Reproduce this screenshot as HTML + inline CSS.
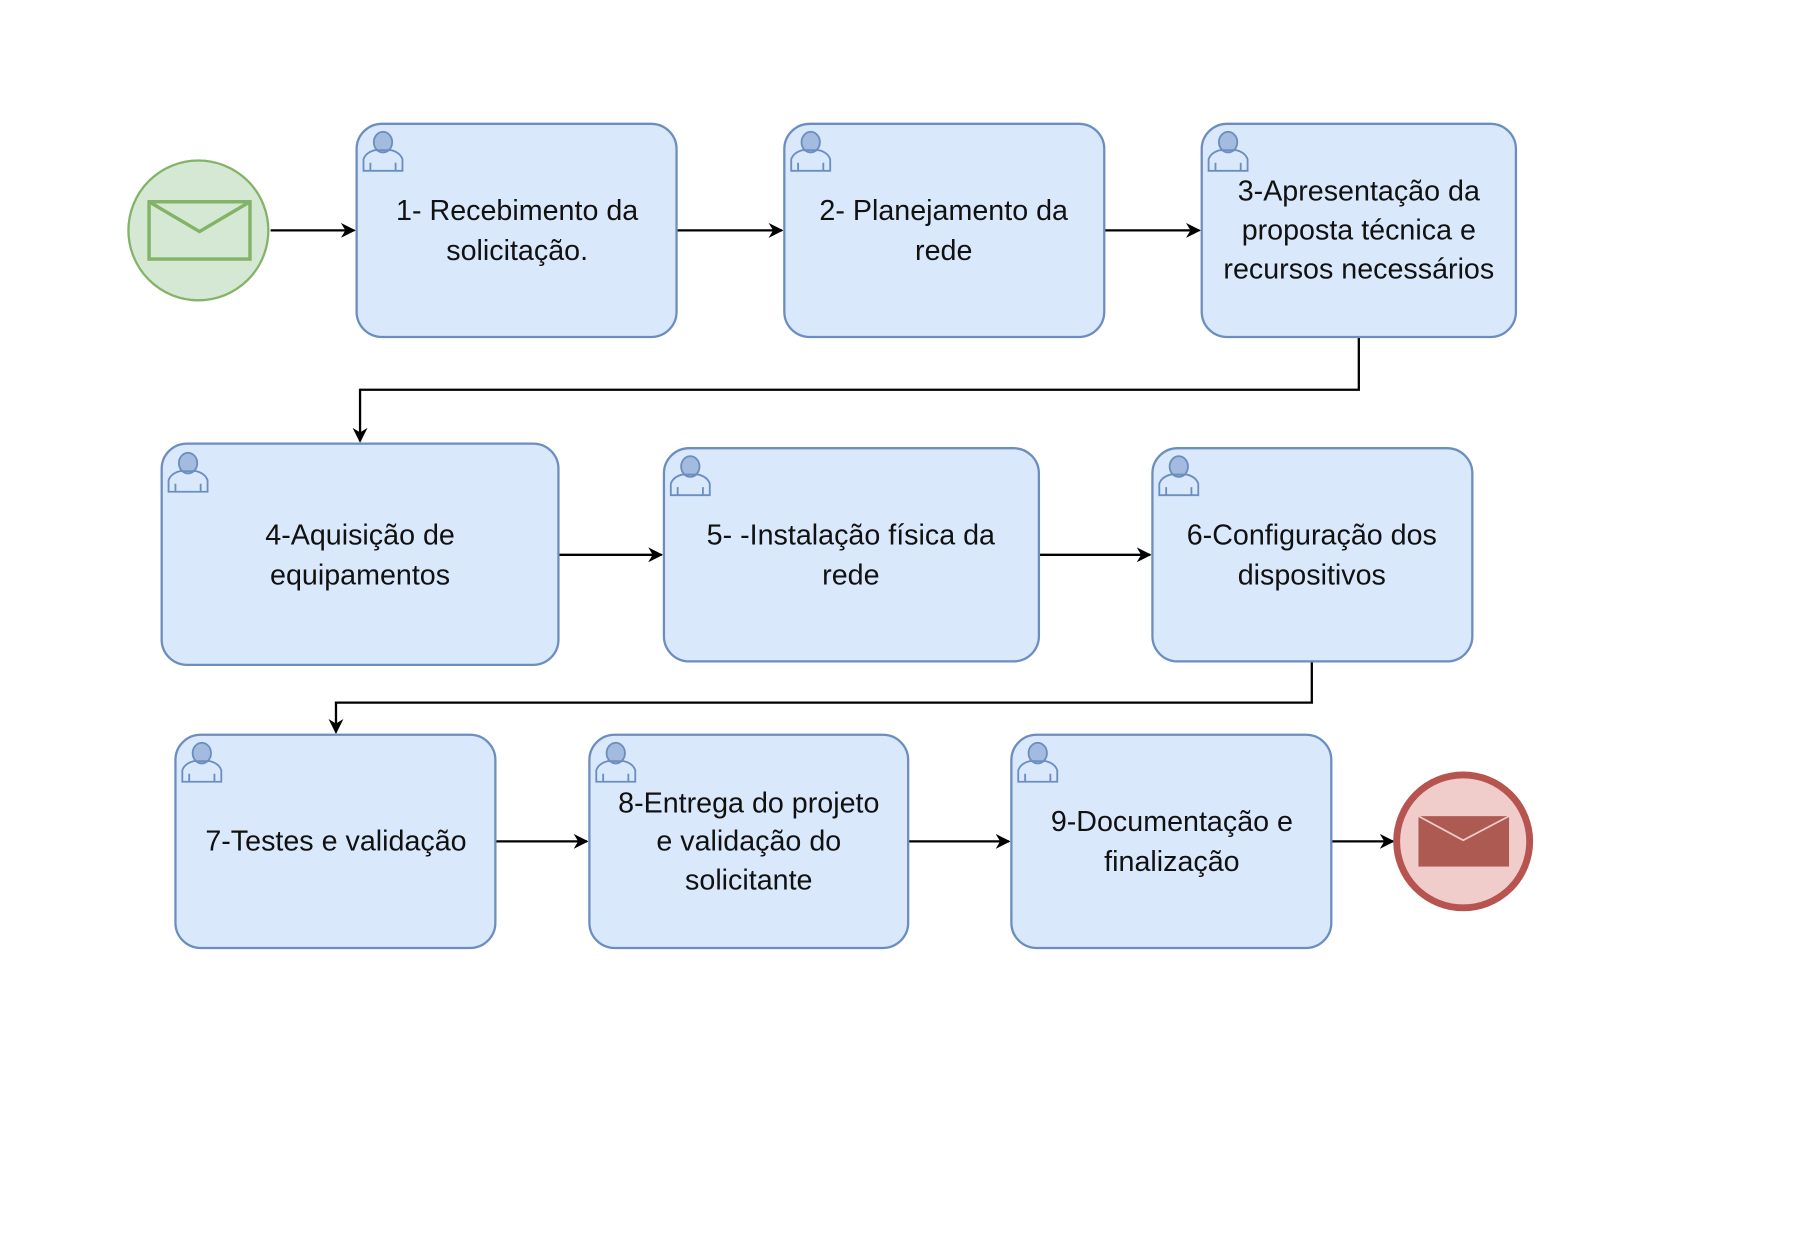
<!DOCTYPE html>
<html><head><meta charset="utf-8"><style>
html,body{margin:0;padding:0;background:#fff;}
svg{display:block}
text{font-family:"Liberation Sans",Arial,sans-serif;font-size:25px;fill:#111;text-anchor:middle}
</style></head><body>
<svg width="1798" height="1246" viewBox="0 0 1568 1087" preserveAspectRatio="none" xmlns="http://www.w3.org/2000/svg">
<defs>
<marker id="a" viewBox="0 0 10 10" refX="9" refY="5" markerWidth="13" markerHeight="13" markerUnits="userSpaceOnUse" orient="auto">
<path d="M0,0 L10,5 L0,10 L3,5 z" fill="#000"/></marker>
<g id="p" fill="none" stroke="#6c8ebf" stroke-width="1.6">
<path d="M4,38 L4,28 Q6,22 14,20 L28,20 Q36,22 38,28 L38,38 Z"/>
<ellipse cx="21" cy="13" rx="8" ry="9" fill="#6c8ebf" fill-opacity="0.5"/>
<path d="M10,38 L10,31 M32,38 L32,31"/>
</g>
</defs>
<rect width="1568" height="1087" fill="#fff"/>
<g stroke="#000" stroke-width="2" fill="none" marker-end="url(#a)">
<path d="M236,201 L309,201"/>
<path d="M590,201 L682,201"/>
<path d="M963,201 L1046,201"/>
<path d="M1185,294 L1185,340 L314,340 L314,385"/>
<path d="M487,484 L577,484"/>
<path d="M906,484 L1003,484"/>
<path d="M1144,577 L1144,613 L293,613 L293,639"/>
<path d="M432,734 L512,734"/>
<path d="M792,734 L880,734"/>
<path d="M1161,734 L1215,734"/>
</g>
<circle cx="173" cy="201" r="61" fill="#d5e8d4" stroke="#82b366" stroke-width="2"/>
<rect x="130" y="176" width="88" height="50" fill="none" stroke="#82b366" stroke-width="3"/>
<path d="M130,176 L174,202 L218,176" fill="none" stroke="#82b366" stroke-width="3"/>
<circle cx="1276" cy="734" r="58" fill="#f0cdcb" stroke="#b85450" stroke-width="6"/>
<rect x="1237" y="712" width="79" height="44" fill="#ad5b52"/>
<path d="M1237,712 L1276,733 L1316,712" fill="none" stroke="#f0cdcb" stroke-width="1.5"/>
<g fill="#dae8fc" stroke="#6c8ebf" stroke-width="2">
<rect x="311" y="108" width="279" height="186" rx="22"/>
<rect x="684" y="108" width="279" height="186" rx="22"/>
<rect x="1048" y="108" width="274" height="186" rx="22"/>
<rect x="141" y="387" width="346" height="193" rx="22"/>
<rect x="579" y="391" width="327" height="186" rx="22"/>
<rect x="1005" y="391" width="279" height="186" rx="22"/>
<rect x="153" y="641" width="279" height="186" rx="22"/>
<rect x="514" y="641" width="278" height="186" rx="22"/>
<rect x="882" y="641" width="279" height="186" rx="22"/>
</g>
<use href="#p" x="313" y="111"/>
<use href="#p" x="686" y="111"/>
<use href="#p" x="1050" y="111"/>
<use href="#p" x="143" y="391"/>
<use href="#p" x="581" y="394"/>
<use href="#p" x="1007" y="394"/>
<use href="#p" x="155" y="644"/>
<use href="#p" x="516" y="644"/>
<use href="#p" x="884" y="644"/>
<text x="451" y="192">1- Recebimento da</text>
<text x="451" y="227">solicitação.</text>
<text x="823" y="192">2- Planejamento da</text>
<text x="823" y="227">rede</text>
<text x="1185" y="175">3-Apresentação da</text>
<text x="1185" y="209">proposta técnica e</text>
<text x="1185" y="243">recursos necessários</text>
<text x="314" y="475">4-Aquisição de</text>
<text x="314" y="510">equipamentos</text>
<text x="742" y="475">5- -Instalação física da</text>
<text x="742" y="510">rede</text>
<text x="1144" y="475">6-Configuração dos</text>
<text x="1144" y="510">dispositivos</text>
<text x="293" y="742">7-Testes e validação</text>
<text x="653" y="709">8-Entrega do projeto</text>
<text x="653" y="742">e validação do</text>
<text x="653" y="776">solicitante</text>
<text x="1022" y="725">9-Documentação e</text>
<text x="1022" y="760">finalização</text>
</svg>
</body></html>
